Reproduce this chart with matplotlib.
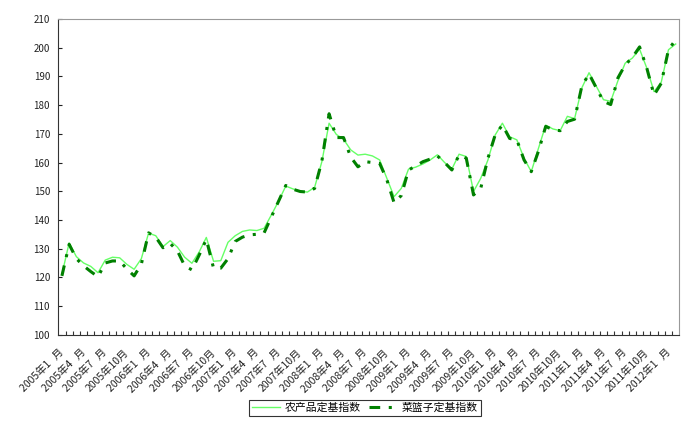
import matplotlib
matplotlib.use('Agg')
import matplotlib.pyplot as plt
import matplotlib.transforms as mtransforms
import numpy as np

plt.rcParams['font.family'] = ['Noto Sans CJK SC', 'DejaVu Sans']

# monthly, 2005-01 .. 2012-02
months = ['%d年%s月' % (y, str(m) if m >= 10 else '%d\u2007' % m)
          for y in range(2005, 2013) for m in range(1, 13)][:86]

nongchanpin = [121.0, 132.0, 127.2, 125.0, 123.8, 121.6, 126.0, 127.0, 126.8, 124.5,
               122.8, 126.5, 135.4, 134.5, 130.7, 132.8, 130.5, 127.0, 124.9, 128.8,
               133.9, 125.6, 125.8, 132.2, 134.5, 136.0, 136.5, 136.3, 137.1, 141.7,
               146.5, 151.8, 150.8, 150.0, 149.7, 151.4, 160.3, 173.7, 169.8, 168.1,
               164.4, 162.6, 162.9, 162.3, 160.9, 154.5, 148.1, 151.0, 157.7, 158.4,
               159.5, 160.9, 162.7, 160.0, 157.7, 162.9, 162.1, 149.9, 154.5, 160.9,
               169.6, 173.7, 169.0, 167.9, 161.5, 156.8, 165.0, 173.0, 171.7, 171.1,
               176.1, 175.3, 186.0, 191.3, 186.6, 181.9, 181.3, 188.5, 194.6, 196.4,
               199.5, 192.9, 184.7, 188.0, 199.3, 201.3]

cailanzi = [120.5, 131.5, 126.5, 124.0, 122.0, 120.2, 125.0, 125.7, 125.7, 122.9,
            120.5, 124.6, 135.5, 134.0, 130.3, 131.8, 129.2, 124.0, 122.6, 127.7,
            133.2, 123.2, 123.2, 126.5, 132.5, 134.0, 134.8, 135.0, 135.5, 141.0,
            146.5, 152.0, 150.7, 149.9, 149.7, 151.0, 160.5, 177.0, 168.7, 168.7,
            161.9, 158.5, 160.3, 160.0, 159.7, 154.0, 146.0, 148.5, 157.4, 158.8,
            160.3, 161.2, 162.3, 160.0, 157.4, 162.6, 161.5, 148.7, 151.0, 161.5,
            169.6, 173.1, 168.4, 167.9, 160.9, 156.8, 164.0, 172.6, 171.4, 171.1,
            174.3, 175.1, 186.6, 190.9, 186.0, 181.3, 180.2, 189.5, 194.0, 196.6,
            200.3, 192.9, 183.5, 187.6, 199.3, 202.8]

labels = ['农产品定基指数', '菜篮子定基指数']

fig = plt.figure(figsize=(6.9, 4.23), dpi=100)
ax = fig.add_axes([0.0845, 0.2087, 0.9, 0.7463])

x = np.arange(len(months))
ax.plot(x, nongchanpin, color='#66FF66', lw=1.0, label=labels[0])
ax.plot(x, cailanzi, color='#008000', lw=2.2, linestyle=(0, (3.5, 2.8, 1, 2.8)),
        label=labels[1])

ax.set_xlim(-0.5, len(months) - 0.5)
ax.set_ylim(100, 210)
ax.set_yticks(np.arange(100, 211, 10))

ax.set_xticks(x[::3])
ax.set_xticklabels(months[::3], rotation=45, ha='right', va='center',
                   rotation_mode='anchor', fontsize=7.5, color='#222222')
shift = mtransforms.ScaledTranslation(-3 / 100, 0, fig.dpi_scale_trans)
for lab in ax.get_xticklabels():
    lab.set_transform(lab.get_transform() + shift)
ax.set_xticks(np.arange(0.5, len(months) - 0.5, 1), minor=True)
ax.tick_params(axis='x', which='major', length=0, pad=11.5)
ax.tick_params(axis='x', which='minor', direction='in', length=3, width=0.8,
               color='#333333')
ax.tick_params(axis='y', direction='in', length=3, width=0.8, labelsize=7, pad=6,
               colors='#222222')

for s in ['left', 'bottom']:
    ax.spines[s].set_color('#333333')
for s in ['top', 'right']:
    ax.spines[s].set_color('#999999')

leg = fig.legend(loc='center', bbox_to_anchor=(365 / 690, 1 - 408 / 423), ncol=2,
                 fontsize=7.8, frameon=True, fancybox=False, handlelength=2.6,
                 columnspacing=0.8, borderpad=0.3, handletextpad=0.4)
leg.get_frame().set_edgecolor('black')
leg.get_frame().set_linewidth(0.8)

fig.savefig('out.png', dpi=100)
